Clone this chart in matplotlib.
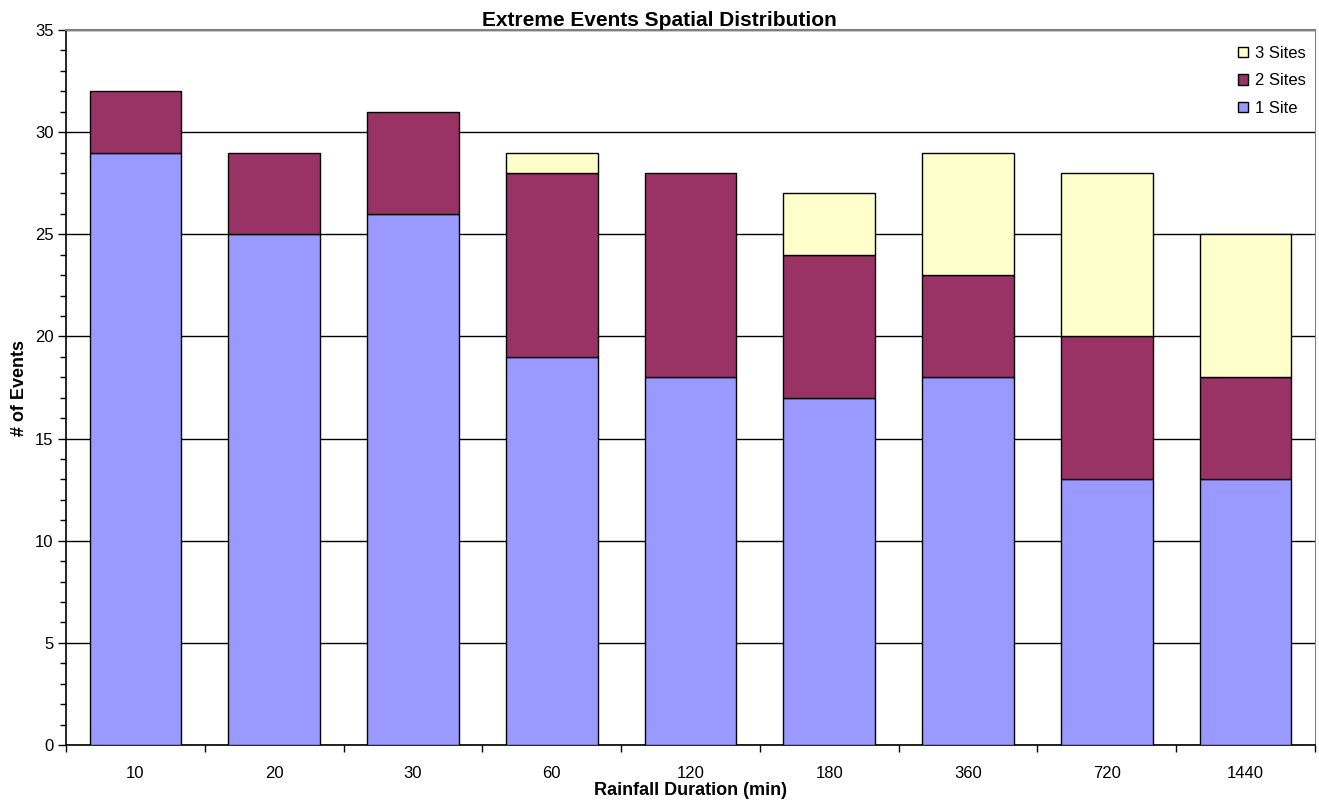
import matplotlib
matplotlib.use("Agg")
import matplotlib.pyplot as plt
from matplotlib.ticker import MultipleLocator, FixedLocator
from matplotlib.patches import Patch
import numpy as np

plt.rcParams['font.family'] = ['Liberation Sans', 'DejaVu Sans']

categories = ['10', '20', '30', '60', '120', '180', '360', '720', '1440']
one_site = [29, 25, 26, 19, 18, 17, 18, 13, 13]
two_sites = [3, 4, 5, 9, 10, 7, 5, 7, 5]
three_sites = [0, 0, 0, 1, 0, 3, 6, 8, 7]
series_labels = ['1 Site', '2 Sites', '3 Sites']

c1, c2, c3 = '#9999FF', '#993366', '#FFFFCC'

fig = plt.figure(figsize=(13.19, 8.0), dpi=100)
ax = fig.add_axes([66/1319, 1-745/800, (1315-66)/1319, (745-30)/800])

x = np.arange(len(categories))
w = 0.66
ax.bar(x, one_site, w, color=c1, edgecolor='black', linewidth=1, zorder=3)
ax.bar(x, two_sites, w, bottom=one_site, color=c2, edgecolor='black', linewidth=1, zorder=3)
bottom3 = [a + b for a, b in zip(one_site, two_sites)]
b3 = ax.bar(x, three_sites, w, bottom=bottom3, color=c3, edgecolor='black', linewidth=1, zorder=3)
for rect, v in zip(b3, three_sites):
    if v == 0:
        rect.set_visible(False)

ax.set_xlim(-0.5, len(categories) - 0.5)
ax.set_ylim(0, 35)
ax.yaxis.set_major_locator(MultipleLocator(5))
ax.yaxis.set_minor_locator(MultipleLocator(1))
ax.set_xticks(x)
ax.set_xticklabels(categories)
ax.xaxis.set_minor_locator(FixedLocator(np.arange(-0.5, len(categories), 1.0)))
ax.tick_params(axis='x', which='major', length=0, pad=15, labelsize=12)
ax.tick_params(axis='x', which='minor', length=5, width=1)
ax.tick_params(axis='y', which='major', length=6, width=1, labelsize=12, pad=3)
ax.tick_params(axis='y', which='minor', length=4, width=1)

ax.grid(axis='y', which='major', color='black', linewidth=1, zorder=0)
ax.spines['top'].set_color('#808080')
ax.spines['top'].set_linewidth(1.5)
ax.spines['right'].set_color('#808080')
ax.spines['left'].set_linewidth(1.2)
ax.spines['bottom'].set_linewidth(1.2)

ax.set_xlabel('Rainfall Duration (min)', fontsize=13, fontweight='bold', labelpad=1)
ax.set_ylabel('# of Events', fontsize=13, fontweight='bold', labelpad=5)
fig.text(0.5, 1-20/800, 'Extreme Events Spatial Distribution', ha='center', va='center',
         fontsize=15, fontweight='bold')

handles = [Patch(facecolor=c3, edgecolor='black', linewidth=1),
           Patch(facecolor=c2, edgecolor='black', linewidth=1),
           Patch(facecolor=c1, edgecolor='black', linewidth=1)]
leg = ax.legend(handles, series_labels[::-1], loc='upper right',
                bbox_to_anchor=(1.005, 1.0),
                frameon=False, fontsize=12, handlelength=0.6, handleheight=0.6,
                handletextpad=0.4, labelspacing=0.75, borderaxespad=0.55)

fig.savefig('out.png', dpi=100)
